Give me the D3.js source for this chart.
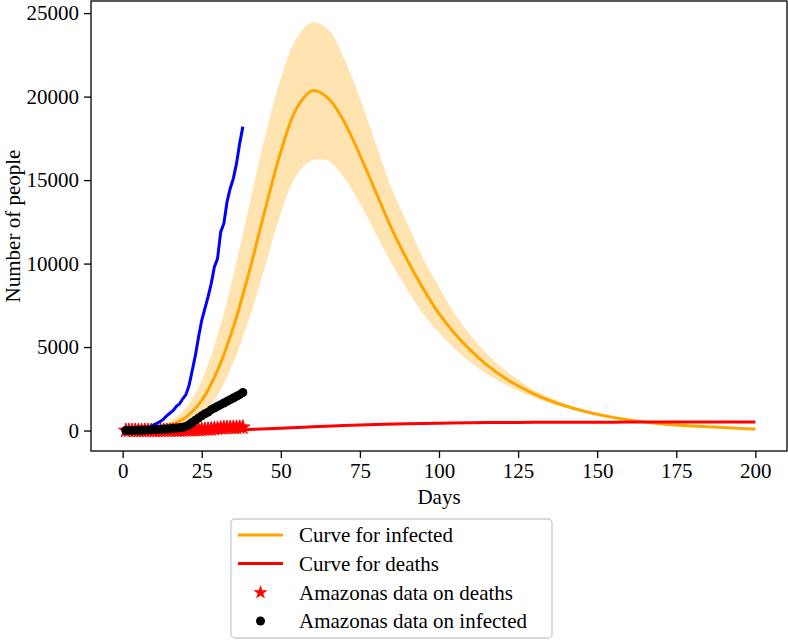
<!DOCTYPE html>
<html>
<head>
<meta charset="utf-8">
<script src="https://cdn.jsdelivr.net/npm/d3@7"></script>
<style>
  body { margin: 0; background: #fff; }
  svg { display: block; }
  text { font-family: "Liberation Serif", "Times New Roman", serif; }
</style>
</head>
<body>
<div id="chart"></div>
<script>
// model curve sample days
const modelDays = [0, 5, 10, 15, 20, 25, 30, 35, 40, 45, 50, 55, 60, 65, 70, 75, 80, 85, 90, 95, 100,
  105, 110, 115, 120, 125, 130, 135, 140, 145, 150, 155, 160, 165, 170, 175, 180, 185, 190, 195, 200];
const infectedMean = [20, 50, 130, 330, 800, 1800, 3600, 6200, 9500, 13200, 16700, 19300, 20350, 19900, 18500,
  16500, 14300, 12100, 10200, 8500, 7000, 5800, 4800, 3950, 3250, 2680, 2200, 1800, 1470, 1200, 980,
  790, 640, 510, 410, 330, 270, 220, 175, 130, 90];
const infectedUpper = [25, 70, 200, 550, 1350, 3000, 5700, 9300, 13500, 17600, 21100, 23500, 24450, 24000, 22300,
  19900, 17200, 14500, 12400, 10300, 8600, 7000, 5700, 4620, 3750, 3050, 2430, 1970, 1590, 1280, 1030,
  820, 650, 515, 410, 325, 260, 205, 160, 115, 75];
const infectedLower = [15, 35, 90, 200, 480, 1050, 2100, 4100, 6700, 9800, 13000, 15300, 16200, 16150, 15150,
  13600, 11800, 10000, 8400, 7000, 5850, 4880, 4070, 3400, 2840, 2380, 1980, 1640, 1360, 1120, 920,
  760, 630, 510, 415, 340, 280, 230, 185, 140, 100];

const deathDays = [0, 10, 20, 30, 40, 50, 60, 70, 80, 90, 100, 110, 120, 130, 140, 150, 160, 170, 180, 190, 200];
const deathCurve = [0, 2, 10, 30, 70, 140, 220, 300, 360, 410, 440, 465, 480, 490, 497, 502, 505, 508, 510, 511, 512];

// blue curve, days 0..38
const blueValues = [30, 30, 30, 30, 30, 35, 40, 60, 150, 250, 350, 450, 550, 700, 900, 1050, 1200, 1450, 1600,
  1900, 2150, 2700, 3600, 4500, 5600, 6600, 7300, 8000, 8800, 9800, 10300, 11900, 12400, 13700, 14500,
  15100, 16000, 17200, 18200];

// Amazonas data, days 1..38
const infectedData = [2, 3, 5, 10, 20, 25, 30, 40, 50, 60, 70, 80, 90, 100, 110, 130, 150, 170, 200, 240,
  350, 480, 620, 750, 880, 1000, 1100, 1250, 1350, 1450, 1550, 1650, 1750, 1850, 1950, 2050, 2150, 2280];
const deathsData = [0, 0, 0, 0, 0, 0, 0, 0, 0, 0, 1, 1, 3, 3, 4, 6, 7, 9, 14, 19, 23, 30, 40, 50, 53, 62,
  71, 90, 106, 124, 145, 161, 170, 175, 180, 185, 190, 193];

const xTicks = [0, 25, 50, 75, 100, 125, 150, 175, 200];
const yTicks = [0, 5000, 10000, 15000, 20000, 25000];
const legendLabels = ['Curve for infected', 'Curve for deaths', 'Amazonas data on deaths', 'Amazonas data on infected'];

const width = 788, height = 642;
const plotLeft = 91, plotRight = 787, plotTop = 1, plotBottom = 451;

const svg = d3.select('#chart').append('svg')
  .attr('width', width)
  .attr('height', height);

const x = d3.scaleLinear().domain([-10, 210]).range([plotLeft, plotRight]);
const y = d3.scaleLinear().domain([-1225, 25725]).range([plotBottom, plotTop]);

const plot = svg.append('g');

// confidence band
plot.append('path')
  .datum(modelDays.map((d, i) => [d, infectedLower[i], infectedUpper[i]]))
  .attr('fill', 'orange')
  .attr('fill-opacity', 0.3)
  .attr('d', d3.area()
    .x(d => x(d[0]))
    .y0(d => y(d[1]))
    .y1(d => y(d[2]))
    .curve(d3.curveCatmullRom));

let line = d3.line().x(d => x(d[0])).y(d => y(d[1])).curve(d3.curveCatmullRom);

plot.append('path')
  .datum(modelDays.map((d, i) => [d, infectedMean[i]]))
  .attr('fill', 'none')
  .attr('stroke', 'orange')
  .attr('stroke-width', 3)
  .attr('d', line);

plot.append('path')
  .datum(deathDays.map((d, i) => [d, deathCurve[i]]))
  .attr('fill', 'none')
  .attr('stroke', 'red')
  .attr('stroke-width', 3)
  .attr('d', line);

const star = d3.symbol().type(d3.symbolStar).size(64);

plot.selectAll('.star')
  .data(deathsData)
  .enter()
  .append('path')
  .attr('class', 'star')
  .attr('transform', (d, i) => `translate(${x(i + 1)},${y(d)})`)
  .attr('fill', 'red')
  .attr('stroke', 'red')
  .attr('stroke-width', 1)
  .attr('d', star);

plot.append('path')
  .datum(blueValues.map((v, i) => [i, v]))
  .attr('fill', 'none')
  .attr('stroke', 'blue')
  .attr('stroke-width', 3)
  .attr('d', d3.line().x(d => x(d[0])).y(d => y(d[1])));

plot.selectAll('.dot')
  .data(infectedData)
  .enter()
  .append('circle')
  .attr('class', 'dot')
  .attr('cx', (d, i) => x(i + 1))
  .attr('cy', d => y(d))
  .attr('r', 4.5)
  .attr('fill', 'black');

// axes
const xAxis = svg.append('g')
  .attr('transform', `translate(0,${plotBottom})`)
  .call(d3.axisBottom(x).tickValues(xTicks).tickFormat(d3.format('d'))
    .tickSize(7).tickPadding(5).tickSizeOuter(0));
const yAxis = svg.append('g')
  .attr('transform', `translate(${plotLeft},0)`)
  .call(d3.axisLeft(y).tickValues(yTicks).tickFormat(d3.format('d'))
    .tickSize(7).tickPadding(5).tickSizeOuter(0));

[xAxis, yAxis].forEach(a => {
  a.select('.domain').remove();
  a.selectAll('line').attr('stroke', 'black').attr('stroke-width', 1.3);
  a.selectAll('text').attr('font-size', 21).attr('fill', 'black')
    .style('font-family', '"Liberation Serif", serif');
});

svg.append('rect')
  .attr('x', plotLeft)
  .attr('y', plotTop)
  .attr('width', plotRight - plotLeft)
  .attr('height', plotBottom - plotTop)
  .attr('fill', 'none')
  .attr('stroke', 'black')
  .attr('stroke-width', 1.3);

svg.append('text')
  .attr('x', (plotLeft + plotRight) / 2)
  .attr('y', 504)
  .attr('text-anchor', 'middle')
  .attr('font-size', 21)
  .text('Days');

svg.append('text')
  .attr('transform', `translate(20,${(plotTop + plotBottom) / 2}) rotate(-90)`)
  .attr('text-anchor', 'middle')
  .attr('font-size', 21)
  .text('Number of people');

// legend
const lg = svg.append('g').attr('transform', 'translate(231,519)');
lg.append('rect')
  .attr('width', 321)
  .attr('height', 119)
  .attr('rx', 4)
  .attr('fill', 'white')
  .attr('fill-opacity', 0.8)
  .attr('stroke', '#cccccc')
  .attr('stroke-width', 1.3);

const rowY = [16, 44.5, 73.5, 102];
legendLabels.forEach((label, i) => {
  const row = lg.append('g').attr('transform', `translate(0,${rowY[i]})`);
  if (i === 0 || i === 1) {
    row.append('line')
      .attr('x1', 7).attr('x2', 52)
      .attr('stroke', i === 0 ? 'orange' : 'red')
      .attr('stroke-width', 3);
  } else if (i === 2) {
    row.append('path')
      .attr('transform', 'translate(29.5,0)')
      .attr('fill', 'red')
      .attr('d', star);
  } else {
    row.append('circle')
      .attr('cx', 29.5)
      .attr('r', 4.5)
      .attr('fill', 'black');
  }
  row.append('text')
    .attr('x', 68)
    .attr('y', 7)
    .attr('font-size', 21)
    .text(label);
});
</script>
</body>
</html>
